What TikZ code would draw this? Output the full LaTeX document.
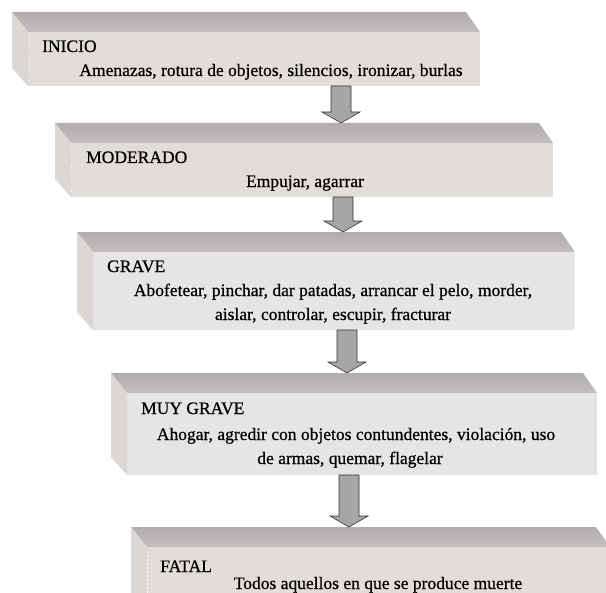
\documentclass[tikz,border=0pt]{standalone}
\usepackage{fontspec}
\setmainfont{Liberation Serif}
\newfontfamily\txtfont{Liberation Serif}[FakeBold=0.6]
\usetikzlibrary{calc}
\definecolor{topc}{HTML}{C4BFBF}
\definecolor{topd}{HTML}{B2ACAC}
\definecolor{sidec}{HTML}{DAD7D4}
\definecolor{frontc}{HTML}{E1DDD9}
\definecolor{fronth}{HTML}{E6E4E4}
\definecolor{arrowc}{HTML}{A8A5A5}
\tikzset{
  boxnode/.style={inner sep=0pt, outer sep=0pt, anchor=north west},
  txt/.style={inner sep=0pt, anchor=base west, text=black},
  ctxt/.style={inner sep=0pt, anchor=base, text=black},
  arrowsty/.style={fill=arrowc, draw=black!80, line width=0.6bp, line join=miter},
}
\newcommand\drawslab[2]{%
  \shade[top color=topd, bottom color=topc] let \p1=(#1.north west), \p2=(#1.south east) in
    (\x1-16bp,\y1+20bp) -- (\x2-14bp,\y1+20bp) -- (\x2,\y1) -- (\x1,\y1) -- cycle;
  \fill[sidec] let \p1=(#1.north west), \p2=(#1.south east) in
    (\x1-16bp,\y1+20bp) -- (\x1,\y1) -- (\x1,\y2) -- (\x1-16bp,\y2+18bp) -- cycle;
  \fill[#2] (#1.north west) rectangle (#1.south east);
}
\newcommand\drawblockarrow[3]{%
  \draw[arrowsty] let \p1=(#1.south), \p2=(#2.north) in
    (#3bp-10bp,\y1) -- (#3bp+10bp,\y1) -- (#3bp+10bp,\y2+31bp) -- (#3bp+19bp,\y2+31bp)
    -- (#3bp,\y2+20bp) -- (#3bp-19bp,\y2+31bp) -- (#3bp-10bp,\y2+31bp) -- cycle;
}
\begin{document}
\begin{tikzpicture}[x=1bp,y=-1bp,font=\txtfont\fontsize{17.5bp}{21bp}\selectfont]
\useasboundingbox (0,0) rectangle (606,593);
\clip (0,0) rectangle (606,593);
\fill[white] (0,0) rectangle (606,593);
% box front faces
\node[boxnode, minimum width=452bp, minimum height=54bp] (b1) at (28,32) {};
\node[boxnode, minimum width=482bp, minimum height=54bp] (b2) at (71,143) {};
\node[boxnode, minimum width=482bp, minimum height=78bp] (b3) at (93,252) {};
\node[boxnode, minimum width=470bp, minimum height=82bp] (b4) at (127,393) {};
\node[boxnode, minimum width=463bp, minimum height=70bp] (b5) at (147,547) {};
\drawslab{b1}{frontc}
\drawslab{b2}{frontc}
\drawslab{b3}{fronth}
\drawslab{b4}{fronth}
\drawslab{b5}{frontc}
\draw[white, line width=1bp, dash pattern=on 1bp off 11bp] (b1.north west) -- (b1.south west);
\draw[white, line width=1bp, dash pattern=on 1bp off 11bp] (b2.north west) -- (b2.south west);
\draw[white, line width=1bp, dash pattern=on 2bp off 2bp] ([yshift=-8bp]b5.north west) -- (b5.south west);
% arrows
\drawblockarrow{b1}{b2}{341}
\drawblockarrow{b2}{b3}{343}
\drawblockarrow{b3}{b4}{347}
\drawblockarrow{b4}{b5}{349}
% texts
\node[txt] (l1) at (42,52) {INICIO};
\node[ctxt] (d1) at (271,76) {Amenazas, rotura de objetos, silencios, ironizar, burlas};
\node[txt] (l2) at (86,163) {MODERADO};
\node[ctxt] (d2) at (305,187) {Empujar, agarrar};
\node[txt] (l3) at (107,272) {GRAVE};
\node[ctxt] (d3a) at (333,296) {Abofetear, pinchar, dar patadas, arrancar el pelo, morder,};
\node[ctxt] (d3b) at (333,320) {aislar, controlar, escupir, fracturar};
\node[txt] (l4) at (141,414) {MUY GRAVE};
\node[ctxt] (d4a) at (356,440) {Ahogar, agredir con objetos contundentes, violación, uso};
\node[ctxt] (d4b) at (350,464) {de armas, quemar, flagelar};
\node[txt] (l5) at (160,572) {FATAL};
\node[ctxt] (d5) at (378,589) {Todos aquellos en que se produce muerte};
\end{tikzpicture}
\end{document}
